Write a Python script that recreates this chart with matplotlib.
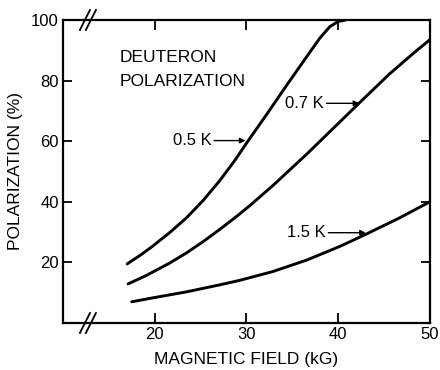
import matplotlib
matplotlib.use("Agg")
import matplotlib.pyplot as plt

# Data
field_05 = [17.0, 18.4, 19.8, 21.7, 23.5, 25.3, 27.1, 28.7, 30.0, 32.2, 34.4, 36.6, 38.0, 39.1, 40.0, 40.8]
pol_05 = [19.5, 22.3, 25.4, 30.0, 34.8, 40.5, 47.0, 53.5, 59.3, 68.8, 78.5, 88.0, 94.0, 97.8, 99.5, 100.0]

field_07 = [17.1, 19.1, 21.7, 23.5, 25.3, 27.1, 28.9, 30.4, 32.9, 36.6, 40.2, 42.4, 45.6, 48.2, 50.0]
pol_07 = [12.9, 15.7, 19.9, 23.2, 26.9, 30.9, 35.1, 38.8, 45.4, 55.8, 66.4, 72.9, 82.2, 89.0, 93.5]

field_15 = [17.5, 19.8, 23.5, 27.1, 29.3, 32.9, 36.6, 40.2, 43.1, 46.7, 50.0]
pol_15 = [7.0, 8.3, 10.3, 12.6, 14.1, 17.0, 20.8, 25.3, 29.4, 34.7, 40.0]

x_ticks = [20, 30, 40, 50]
y_ticks = [20, 40, 60, 80, 100]

plt.rcParams['font.family'] = ['Liberation Sans', 'DejaVu Sans']

fig = plt.figure(figsize=(4.4, 3.7), dpi=100)
ax = fig.add_axes([0.143, 0.127, 0.834, 0.819])

for xs, ys in [(field_05, pol_05), (field_07, pol_07), (field_15, pol_15)]:
    ax.plot(xs, ys, color='black', lw=2.1, solid_capstyle='round',
            solid_joinstyle='round')

ax.set_xlim(10, 50)
ax.set_ylim(0, 100)
ax.set_xticks(x_ticks)
ax.set_yticks(y_ticks)
ax.set_xticklabels([str(v) for v in x_ticks])
ax.set_yticklabels([str(v) for v in y_ticks])
ax.tick_params(direction='in', width=1.3, labelsize=12,
               top=True, right=True)
ax.tick_params(axis='y', length=6.5, pad=3)
ax.tick_params(axis='x', length=7.5, pad=3)
for s in ax.spines.values():
    s.set_linewidth(1.6)

ax.set_xlabel('MAGNETIC FIELD (kG)', fontsize=12.5, labelpad=7)
ax.set_ylabel('POLARIZATION (%)', fontsize=12.5, labelpad=6)

# axis break marks
for yb in (0, 100):
    for x0 in (11.85, 12.5):
        ax.plot([x0, x0 + 1.1], [yb - 3.3, yb + 3.3], color='black',
                lw=1.3, clip_on=False)

ax.text(16.2, 87.5, 'DEUTERON', fontsize=12.5, va='center')
ax.text(16.2, 79.8, 'POLARIZATION', fontsize=12.5, va='center')

arrow = dict(arrowstyle='-|>', color='black', lw=1.0, shrinkA=0, shrinkB=0,
             mutation_scale=8)
ax.annotate('0.5 K', xy=(29.9, 60.2), xytext=(21.95, 60.2), fontsize=12,
            va='center', arrowprops=arrow)
ax.annotate('0.7 K', xy=(42.3, 72.5), xytext=(34.2, 72.5), fontsize=12,
            va='center', arrowprops=arrow)
ax.annotate('1.5 K', xy=(43.0, 29.8), xytext=(34.4, 29.8), fontsize=12,
            va='center', arrowprops=arrow)

fig.savefig('out.png', dpi=100)
